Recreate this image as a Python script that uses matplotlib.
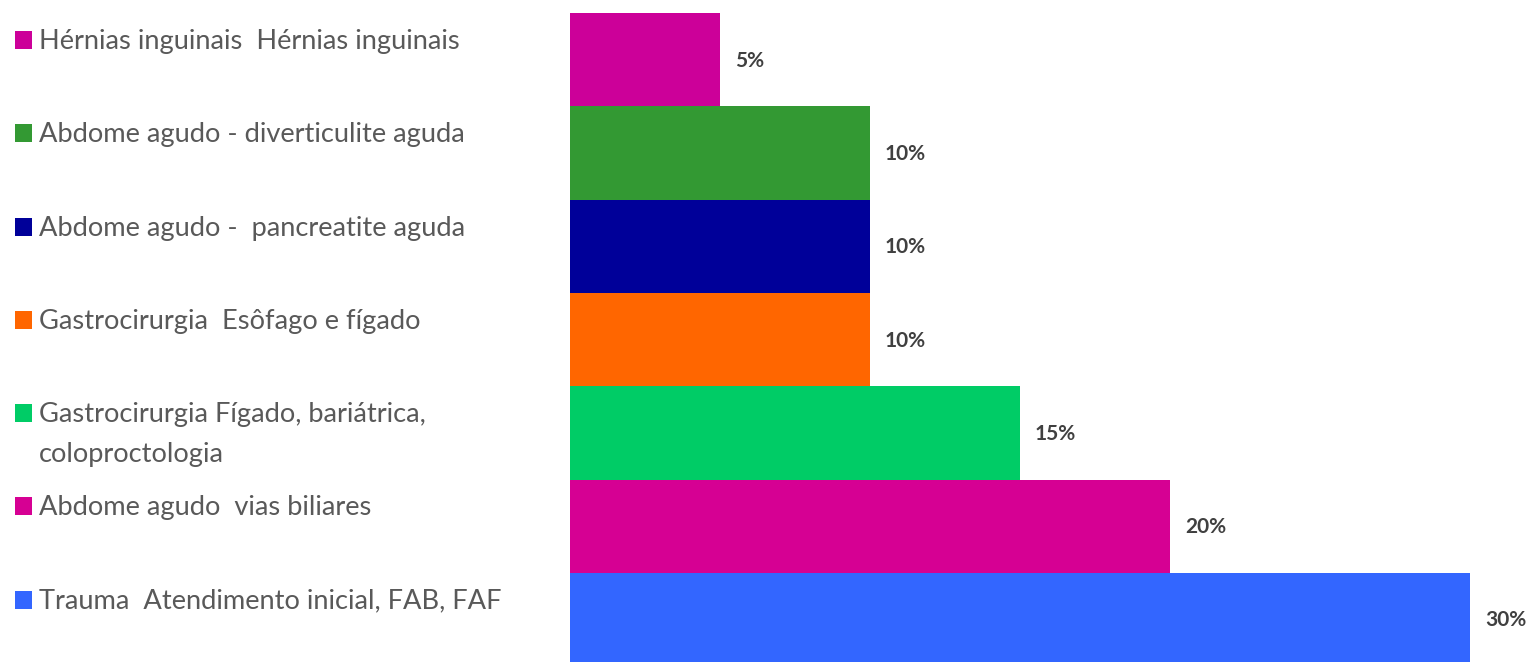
import matplotlib
matplotlib.use("Agg")
import matplotlib.pyplot as plt
from matplotlib.patches import Rectangle
from matplotlib.transforms import blended_transform_factory

# Data (bottom to top)
categories = [
    "Trauma  Atendimento inicial, FAB, FAF",
    "Abdome agudo  vias biliares",
    "Gastrocirurgia Fígado, bariátrica,\ncoloproctologia",
    "Gastrocirurgia  Esôfago e fígado",
    "Abdome agudo -  pancreatite aguda",
    "Abdome agudo - diverticulite aguda",
    "Hérnias inguinais  Hérnias inguinais",
]
values = [30, 20, 15, 10, 10, 10, 5]
value_labels = ["30%", "20%", "15%", "10%", "10%", "10%", "5%"]
colors = ["#3366FF", "#D60093", "#00CC66", "#FF6600", "#000099", "#339933", "#CC0099"]

W, H = 1531, 662
fig = plt.figure(figsize=(W / 100, H / 100), dpi=100)
fig.patch.set_facecolor("white")

left_px, top_px = 570, 13
unit_px = 30.0
bar_px = 93.3
ax_w_px = W - left_px
ax_h_px = bar_px * 7
ax = fig.add_axes([left_px / W, (H - top_px - ax_h_px) / H, ax_w_px / W, ax_h_px / H])
ax.set_xlim(0, ax_w_px / unit_px)
ax.set_ylim(-0.5, 6.5)
ax.axis("off")

ypos = list(range(len(values)))
ax.barh(ypos, values, height=1.0, color=colors, edgecolor="none")

for y, v, lab in zip(ypos, values, value_labels):
    ax.annotate(lab, xy=(v, y), xytext=(15, -1), textcoords="offset pixels",
                ha="left", va="center", fontsize=15, fontweight="bold",
                color="#404040", family="Lato")

# legend (manual, left side)
tr = blended_transform_factory(fig.transFigure, ax.transData)
sq_h = 18 / bar_px
for y, cat, c in zip(ypos, categories, colors):
    yb = y + 0.115
    ax.add_patch(Rectangle((15 / W, yb), 17 / W, sq_h, transform=tr,
                           facecolor=c, edgecolor="none", clip_on=False))
    for k, line in enumerate(cat.split("\n")):
        ax.annotate(line, xy=(39 / W, yb), xycoords=tr,
                    xytext=(0, -40 * k), textcoords="offset pixels",
                    ha="left", va="baseline", fontsize=19.6, color="#595959",
                    family="Lato", annotation_clip=False)

fig.savefig("out.png", dpi=100, facecolor="white")
